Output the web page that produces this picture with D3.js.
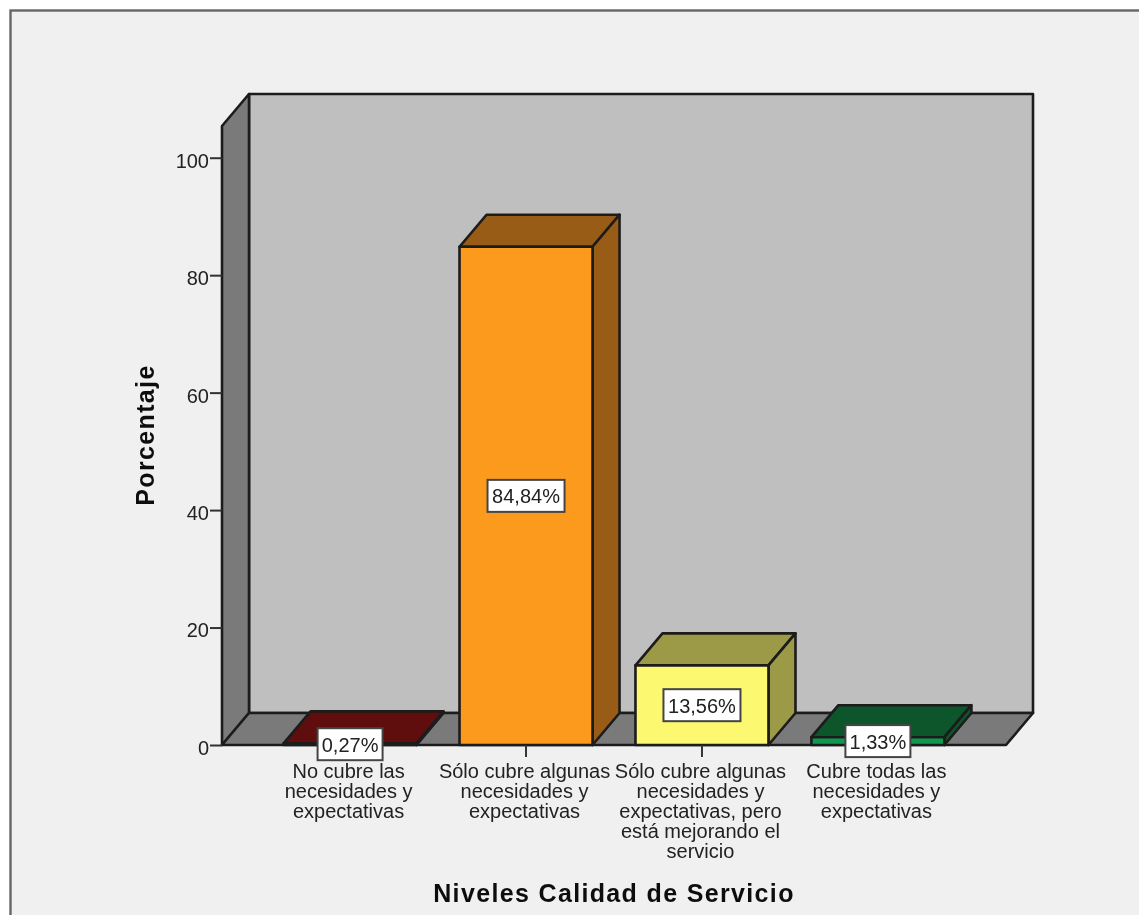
<!DOCTYPE html>
<html><head><meta charset="utf-8">
<script src="https://cdnjs.cloudflare.com/ajax/libs/d3/7.8.5/d3.min.js"></script>
<style>html,body{margin:0;padding:0;background:#fff;overflow:hidden}svg{display:block}text{font-family:"Liberation Sans",Arial,sans-serif}</style>
</head><body><div id="chart"></div>
<script>
const categories = [
  ["No cubre las","necesidades y","expectativas"],
  ["Sólo cubre algunas","necesidades y","expectativas"],
  ["Sólo cubre algunas","necesidades y","expectativas, pero","está mejorando el","servicio"],
  ["Cubre todas las","necesidades y","expectativas"]
];
const values = [0.27, 84.84, 13.56, 1.33];
const valueLabels = ["0,27%","84,84%","13,56%","1,33%"];
const frontColors = ["#7a1014","#fb9a1d","#fcf86f","#0f9a4f"];
const shadeColors = ["#600b0e","#985b13","#9c9a47","#0a5529"];
const yTicks = [0,20,40,60,80,100];
const xTitle = "Niveles Calidad de Servicio";
const yTitle = "Porcentaje";

const W=1139,H=915, dx=27, dy=-32, ink="#1c1c1c";
const svg=d3.select("#chart").append("svg").attr("width",W).attr("height",H);
const defs=svg.append("defs");
defs.append("filter").attr("id","soft").attr("x",0).attr("y",0)
  .attr("filterUnits","userSpaceOnUse").attr("width",W).attr("height",H)
  .append("feGaussianBlur").attr("stdDeviation",0.55);
const root=svg.append("g").attr("filter","url(#soft)");
root.append("rect").attr("x",0).attr("y",0).attr("width",W).attr("height",H).attr("fill","#fff");
root.append("rect").attr("x",10.5).attr("y",10.5).attr("width",W+40).attr("height",H+40)
  .attr("fill","#f0f0f0").attr("stroke","#666").attr("stroke-width",2.4);

const x=d3.scaleBand().domain(d3.range(values.length)).range([222,1006]).paddingInner(0.244).paddingOuter(0.35);
const y=d3.scaleLinear().domain([0,105.4]).range([745,126]);
const poly=(pts,f)=>root.append("polygon").attr("points",pts.map(p=>p.join(",")).join(" "))
  .attr("fill",f).attr("stroke",ink).attr("stroke-width",2.6).attr("stroke-linejoin","round");
const [x0,x1]=x.range(), yb=y(0), yt=y.range()[1];

poly([[x0+dx,yb+dy],[x1+dx,yb+dy],[x1+dx,yt+dy],[x0+dx,yt+dy]],"#bfbfbf");
poly([[x0,yb],[x0+dx,yb+dy],[x0+dx,yt+dy],[x0,yt]],"#7a7a7a");
poly([[x0,yb],[x1,yb],[x1+dx,yb+dy],[x0+dx,yb+dy]],"#7a7a7a");

values.forEach((v,i)=>{
  const l=x(i), r=l+x.bandwidth(), t=y(v);
  poly([[l,t],[r,t],[r+dx,t+dy],[l+dx,t+dy]],shadeColors[i]);
  poly([[r,yb],[r,t],[r+dx,t+dy],[r+dx,yb+dy]],shadeColors[i]);
  poly([[l,yb],[r,yb],[r,t],[l,t]],frontColors[i]);
});

const ya=root.append("g").attr("transform",`translate(${x0},0)`)
  .call(d3.axisLeft(y).tickValues(yTicks).tickSize(12).tickPadding(1).tickFormat(d3.format("d")));
ya.select(".domain").remove();
ya.selectAll("line").attr("stroke","#333").attr("stroke-width",2);
ya.selectAll("text").attr("font-size",20).attr("fill","#222").attr("dy","0.47em")
  .style("font-family",'"Liberation Sans",Arial,sans-serif');

const xa=root.append("g").attr("transform",`translate(0,${yb})`)
  .call(d3.axisBottom(x).tickSize(12).tickFormat(""));
xa.select(".domain").remove();
xa.selectAll("line").attr("stroke","#333").attr("stroke-width",2);

categories.forEach((lines,i)=>{
  const cx=x(i)+x.bandwidth()/2-1.5;
  const t=root.append("text").attr("text-anchor","middle").attr("font-size",20).attr("fill","#222");
  lines.forEach((s,k)=>t.append("tspan").attr("x",cx).attr("y",777.5+k*20).text(s));
});

values.forEach((v,i)=>{
  const cx=x(i)+x.bandwidth()/2, cy=y(v/2);
  const bw=valueLabels[i].length>5?77:65;
  root.append("rect").attr("x",cx-bw/2).attr("y",cy-16).attr("width",bw).attr("height",32)
    .attr("fill","#fff").attr("stroke","#444").attr("stroke-width",2);
  root.append("text").attr("x",cx).attr("y",cy+7.5).attr("text-anchor","middle")
    .attr("font-size",20).attr("fill","#222").text(valueLabels[i]);
});

root.append("text").attr("x",614).attr("y",902).attr("text-anchor","middle")
  .attr("font-size",25).attr("font-weight","bold").attr("letter-spacing",1.35).attr("fill","#111").text(xTitle);
root.append("text").attr("transform","translate(154,435) rotate(-90)").attr("text-anchor","middle")
  .attr("font-size",25).attr("font-weight","bold").attr("letter-spacing",1.35).attr("fill","#111").text(yTitle);
</script></body></html>
